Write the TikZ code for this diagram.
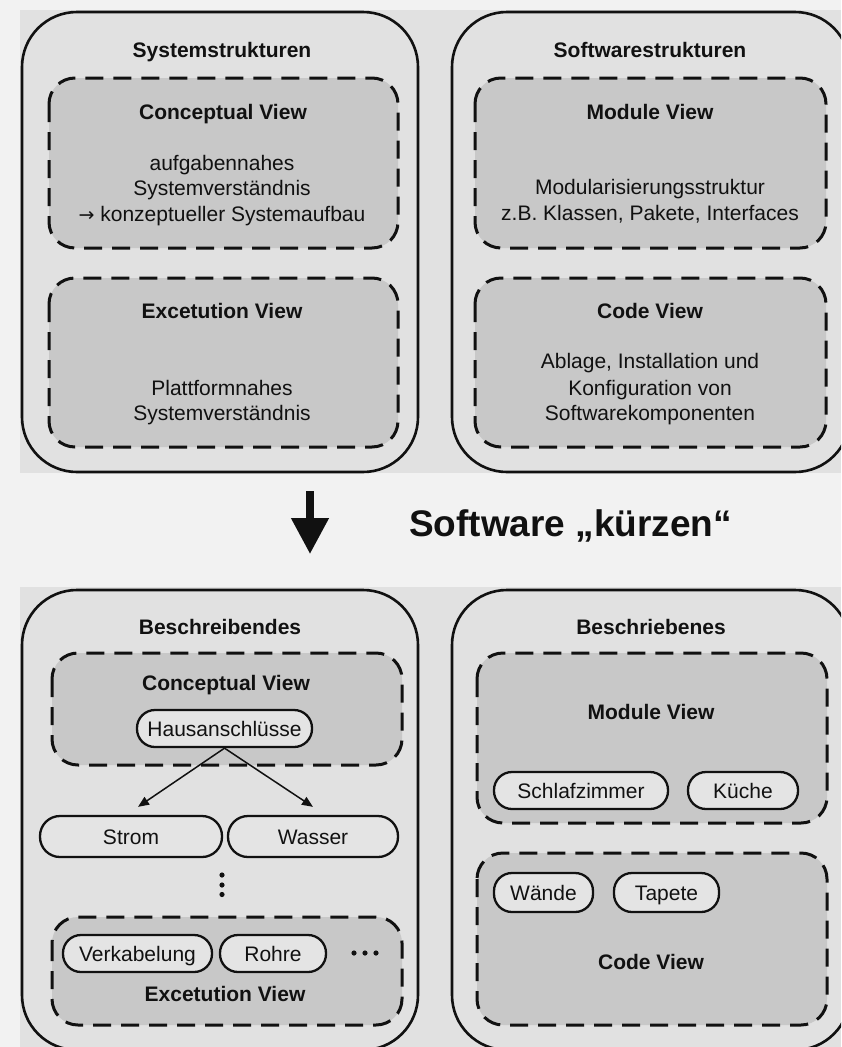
\documentclass[tikz,border=0pt]{standalone}
\usepackage{fontspec}
\setmainfont{Liberation Sans}
\newfontfamily\arrowfont{DejaVu Sans}
\usetikzlibrary{arrows.meta}
\definecolor{pagebg}{HTML}{F2F2F2}
\definecolor{panelbg}{HTML}{E1E1E1}
\definecolor{viewfill}{HTML}{C8C8C8}
\definecolor{pillfill}{HTML}{E4E4E4}
\definecolor{ink}{HTML}{111111}
\begin{document}
\begin{tikzpicture}[x=1pt,y=-1pt,
  outerbox/.style={draw=ink, line width=2.6pt, rounded corners=55pt},
  viewbox/.style={draw=ink, fill=viewfill, line width=3pt, dash pattern=on 18pt off 10pt, rounded corners=26pt},
  txt/.style={font=\fontsize{21}{25}\selectfont, text=ink, inner sep=0pt, anchor=base},
  head/.style={txt, font=\fontsize{21}{25}\selectfont\bfseries},
  pill/.style={draw=ink, fill=pillfill, line width=2.3pt, rounded corners=18pt,
    minimum height=37pt, inner sep=0pt, text height=15pt, text depth=0pt,
    font=\fontsize{21}{25}\selectfont, text=ink},
  tallpill/.style={pill, minimum height=41pt, rounded corners=20pt},
  link/.style={draw=ink, line width=1.5pt, -{Triangle[length=11pt,width=9pt]}},
  dot/.style={fill=ink}
]
\useasboundingbox (0,0) rectangle (841,1047);
\clip (0,0) rectangle (841,1047);
\fill[pagebg] (0,0) rectangle (841,1047);

% ---------- upper panel ----------
\fill[panelbg] (20,10) rectangle (841,473);
\draw[outerbox] (22,12) rectangle (418,472);
\draw[outerbox] (452,12) rectangle (850,472);
\draw[viewbox] (49,78) rectangle (398,248);
\draw[viewbox] (49,278) rectangle (398,447);
\draw[viewbox] (475,78) rectangle (826,248);
\draw[viewbox] (475,278) rectangle (826,447);

\node[head] (sys) at (222,57) {Systemstrukturen};
\node[head] (cvA) at (223,119) {Conceptual View};
\node[txt] (cvA1) at (222,170) {aufgabennahes};
\node[txt] (cvA2) at (222,195) {Systemverständnis};
\node[txt] (cvA3) at (222,221) {{\arrowfont\fontsize{19}{25}\selectfont →} konzeptueller Systemaufbau};
\node[head] (evA) at (222,318) {Excetution View};
\node[txt] (evA1) at (222,395) {Plattformnahes};
\node[txt] (evA2) at (222,420) {Systemverständnis};

\node[head] (sws) at (650,57) {Softwarestrukturen};
\node[head] (mvA) at (650,119) {Module View};
\node[txt] (mvA1) at (650,194) {Modularisierungsstruktur};
\node[txt] (mvA2) at (650,220) {z.B. Klassen, Pakete, Interfaces};
\node[head] (cdA) at (650,318) {Code View};
\node[txt] (cdA1) at (650,368) {Ablage, Installation und};
\node[txt] (cdA2) at (650,395) {Konfiguration von};
\node[txt] (cdA3) at (650,420) {Softwarekomponenten};

% ---------- transition ----------
\coordinate (kstart) at (310,491);
\coordinate (kend) at (310,554);
\draw[ink, line width=7.7pt, -{Triangle[length=36pt,width=36pt]}] (kstart) -- (kend);
\node[txt, anchor=base west, font=\fontsize{37}{40}\selectfont\bfseries] (kuerzen) at (409,536) {Software „kürzen“};

% ---------- lower panel ----------
\fill[panelbg] (20,587) rectangle (841,1047);
\draw[outerbox] (22,590) rectangle (418,1050);
\draw[outerbox] (452,590) rectangle (850,1050);
\draw[viewbox] (52,653) rectangle (402,765);
\draw[viewbox] (52,917) rectangle (402,1025);
\draw[viewbox] (477,653) rectangle (827,823);
\draw[viewbox] (477,853) rectangle (827,1025);

\node[head] (bs) at (220,634) {Beschreibendes};
\node[head] (cvB) at (226,690) {Conceptual View};
\node[pill, minimum width=175pt] (haus) at (224.5,728.5) {Hausanschlüsse};
\node[tallpill, minimum width=182pt] (strom) at (131,836.5) {Strom};
\node[tallpill, minimum width=170pt] (wasser) at (313,836.5) {Wasser};
\draw[link] (haus.south) -- ([xshift=7pt,yshift=8pt]strom.north);
\draw[link] (haus.south) -- ([yshift=8pt]wasser.north);
\fill[dot] (222,875) circle (2.6pt) (222,885) circle (2.6pt) (222,894.5) circle (2.6pt);
\node[pill, minimum width=149pt] (verk) at (137.5,953.5) {Verkabelung};
\node[pill, minimum width=106pt] (rohre) at (273,953.5) {Rohre};
\fill[dot] (354,953) circle (2.6pt) (365,953) circle (2.6pt) (376,953) circle (2.6pt);
\node[head] (evB) at (225,1001) {Excetution View};

\node[head] (bn) at (651,634) {Beschriebenes};
\node[head] (mvB) at (651,719) {Module View};
\node[pill, minimum width=174pt] (schlaf) at (581,790.5) {Schlafzimmer};
\node[pill, minimum width=110pt] (kueche) at (743,790.5) {Küche};
\node[pill, minimum width=99pt, minimum height=39pt] (waende) at (543.5,892.5) {Wände};
\node[pill, minimum width=105pt, minimum height=39pt] (tapete) at (666.5,892.5) {Tapete};
\node[head] (cdB) at (651,969) {Code View};
\end{tikzpicture}
\end{document}
